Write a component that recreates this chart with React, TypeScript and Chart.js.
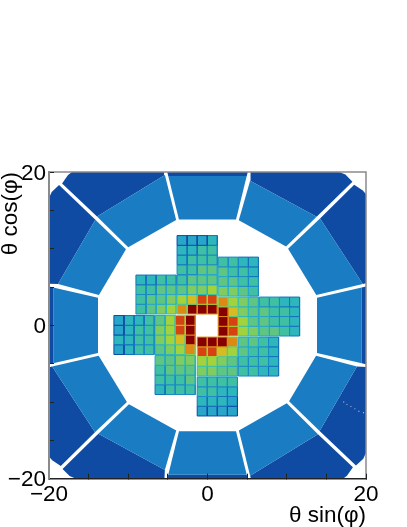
import React, { useEffect, useRef } from "react";
import { Chart, registerables } from "chart.js";

Chart.register(...registerables);

// colour levels of the map, low to high
const paletteColours = [
  "#0f4aa3", "#1570bc", "#1b8ac6", "#27a6ca", "#2db6bb", "#40c0a2", "#5ec682", "#80cc60",
  "#a2d23c", "#d6bc20", "#dd8a14", "#d64212", "#b41210", "#860000",
];
const LIGHT_PANEL = "#1a7cc2";
const DARK_PANEL = "#0f4aa3";

// outer ring panels, data coordinates [x, y], before rotating by quarter turns
const topLight = [[-3.6, 13.82], [3.6, 13.82], [4.95, 19.47], [-4.95, 19.47]];
const topDark = [[-4.95, 19.47], [4.95, 19.47], [5.08, 20], [-5.08, 20]];
const obliqueNearLight = [[-5.38, 19.6], [-3.96, 13.73], [-10, 10.17], [-13.94, 14.2]];
const obliqueNearDark = [[-13.94, 14.2], [-5.38, 19.6], [-5.48, 20], [-17.1, 20], [-17.6, 19.6], [-18.35, 18.51]];
const obliqueFarLight = [[-10.29, 9.91], [-13.7, 3.95], [-18.86, 5.38], [-14.15, 13.77]];
const obliqueFarDark = [[-14.15, 13.77], [-18.86, 5.38], [-20, 5.43], [-20, 16.6], [-19.66, 17.4], [-18.73, 18.29]];

// inner modules: top-left corner in data coordinates
const moduleLeft = [-3.84, -3.84, -9.03, 1.35, 1.35, 6.54, -11.81, -6.62, -6.62, -1.3, -1.3, 3.89];
const moduleTop = [11.71, 6.56, 6.56, 8.9, 3.69, 3.69, 1.28, 1.28, -3.94, -1.53, -6.74, -1.53];
const TILE = 1.27;

// levels of the 4x4 tiles in each module, rows from top to bottom
const moduleLevels = [
  [[3, 3, 3, 4], [4, 4, 5, 5], [4, 5, 5, 5], [5, 5, 6, 6]],
  [[5, 6, 6, 6], [6, 7, 7, 8], [8, 9, 11, 11], [10, 13, 13, 13]],
  [[4, 4, 5, 5], [5, 5, 6, 6], [5, 6, 6, 7], [5, 6, 7, 8]],
  [[5, 5, 4, 4], [6, 5, 5, 4], [6, 6, 5, 5], [7, 7, 6, 5]],
  [[10, 8, 7, 6], [13, 9, 7, 6], [13, 11, 8, 6], [13, 11, 8, 7]],
  [[5, 5, 4, 4], [6, 5, 5, 4], [6, 5, 5, 4], [6, 6, 5, 4]],
  [[3, 4, 4, 5], [3, 4, 5, 5], [4, 4, 5, 5], [3, 4, 5, 5]],
  [[6, 8, 11, 13], [7, 8, 11, 13], [7, 8, 9, 13], [6, 7, 8, 10]],
  [[6, 6, 7, 7], [5, 6, 6, 6], [5, 5, 5, 6], [4, 5, 5, 5]],
  [[13, 13, 13, 10], [11, 11, 9, 8], [8, 8, 7, 6], [7, 7, 6, 6]],
  [[5, 5, 5, 5], [5, 5, 4, 4], [4, 4, 4, 3], [3, 3, 3, 3]],
  [[6, 6, 5, 4], [6, 5, 5, 4], [5, 5, 5, 4], [5, 5, 4, 4]],
];

// stray empty bins in the lower right ring
const dotsX = [17.2, 17.6, 18.1, 18.6, 19.1, 19.7];
const dotsY = [-10, -10.3, -10.6, -10.9, -11.2, -11.4];

const frameX = [-20, 20, 20];
const frameY = [20, 20, -20];

const AXIS_MIN = -20;
const AXIS_MAX = 20;
const TICK_STEP = 5;
const LABEL_STEP = 20;
const X_TITLE = "θ sin(φ)";
const Y_TITLE = "θ cos(φ)";

function polygon(points: number[][], colour: string, line?: string) {
  const closed = [...points, points[0]];
  return {
    data: closed.map(([x, y]) => ({ x, y })),
    showLine: true,
    fill: "shape",
    tension: 0,
    backgroundColor: colour,
    borderColor: line ?? colour,
    borderWidth: line ? 1 : 0,
    pointRadius: 0,
  };
}

function turn(points: number[][], quarter: number) {
  let out = points;
  for (let i = 0; i < quarter; i++) out = out.map(([x, y]) => [y, -x]);
  return out;
}

function buildDatasets() {
  const sets: any[] = [];
  sets.push({
    data: frameX.map((x, i) => ({ x, y: frameY[i] })),
    showLine: true,
    borderColor: "#8a8a8a",
    borderWidth: 1.5,
    pointRadius: 0,
    clip: false,
    fill: false,
  });
  sets.push({
    data: dotsX.map((x, i) => ({ x, y: dotsY[i] })),
    showLine: false,
    pointStyle: "rect",
    pointRadius: 0.6,
    pointBorderWidth: 0,
    backgroundColor: "#ffffff",
  });
  moduleLevels.forEach((rows, m) => {
    rows.forEach((row, r) => {
      row.forEach((level, c) => {
        const x0 = moduleLeft[m] + c * TILE;
        const y0 = moduleTop[m] - r * TILE;
        sets.push(
          polygon(
            [[x0, y0], [x0 + TILE, y0], [x0 + TILE, y0 - TILE], [x0, y0 - TILE]],
            paletteColours[level],
            paletteColours[Math.max(level - 3, 0)],
          ),
        );
      });
    });
  });
  for (let q = 0; q < 4; q++) {
    sets.push(polygon(turn(topLight, q), LIGHT_PANEL));
    sets.push(polygon(turn(topDark, q), DARK_PANEL));
    sets.push(polygon(turn(obliqueNearLight, q), LIGHT_PANEL));
    sets.push(polygon(turn(obliqueNearDark, q), DARK_PANEL));
    sets.push(polygon(turn(obliqueFarLight, q), LIGHT_PANEL));
    sets.push(polygon(turn(obliqueFarDark, q), DARK_PANEL));
  }
  return sets;
}

const labelOf = (v: number | string) => {
  const n = Number(v);
  if (n % LABEL_STEP !== 0) return "";
  return n < 0 ? "\u2212" + Math.abs(n) : String(n);
};

export default function App() {
  const ref = useRef<HTMLCanvasElement>(null);
  useEffect(() => {
    document.body.style.margin = "0";
    const fontFamily = "'Liberation Sans', Arial, sans-serif";
    const chart = new Chart(ref.current as HTMLCanvasElement, {
      type: "scatter",
      data: { datasets: buildDatasets() },
      options: {
        animation: false,
        responsive: false,
        events: [],
        layout: { padding: { top: 172, right: 41, left: 0, bottom: 0 } },
        plugins: { legend: { display: false }, tooltip: { enabled: false } },
        scales: {
          x: {
            type: "linear",
            min: AXIS_MIN,
            max: AXIS_MAX,
            afterFit: (s: any) => {
              s.height = 48.3;
            },
            border: { color: "#222222", width: 1.5, z: 2 },
            grid: { drawOnChartArea: false, tickLength: -5, tickColor: "#222222", tickWidth: 1, z: 2 },
            ticks: {
              stepSize: TICK_STEP,
              autoSkip: false,
              maxRotation: 0,
              callback: labelOf,
              color: "#000000",
              padding: 8,
              font: { family: fontFamily, size: 22.5 },
            },
            title: {
              display: true,
              text: X_TITLE,
              align: "end",
              color: "#000000",
              padding: { top: 0, bottom: 0 },
              font: { family: fontFamily, size: 22.5, lineHeight: 1 },
            },
          },
          y: {
            type: "linear",
            min: AXIS_MIN,
            max: AXIS_MAX,
            afterFit: (s: any) => {
              s.width = 49;
            },
            border: { color: "#8a8a8a", width: 2, z: 2 },
            grid: { drawOnChartArea: false, tickLength: -5, tickColor: "#222222", tickWidth: 1, z: 2 },
            ticks: {
              stepSize: TICK_STEP,
              autoSkip: false,
              callback: labelOf,
              color: "#000000",
              padding: 8,
              labelOffset: 1.5,
              font: { family: fontFamily, size: 22.5 },
            },
            title: {
              display: true,
              text: Y_TITLE,
              align: "end",
              color: "#000000",
              padding: { top: 0, bottom: 0 },
              font: { family: fontFamily, size: 22.5, lineHeight: 1 },
            },
          },
        },
      } as any,
    });
    return () => chart.destroy();
  }, []);
  return (
    <canvas
      ref={ref}
      width={407}
      height={527}
      style={{ display: "block", position: "absolute", left: 0, top: 0, width: 407, height: 527 }}
    />
  );
}
